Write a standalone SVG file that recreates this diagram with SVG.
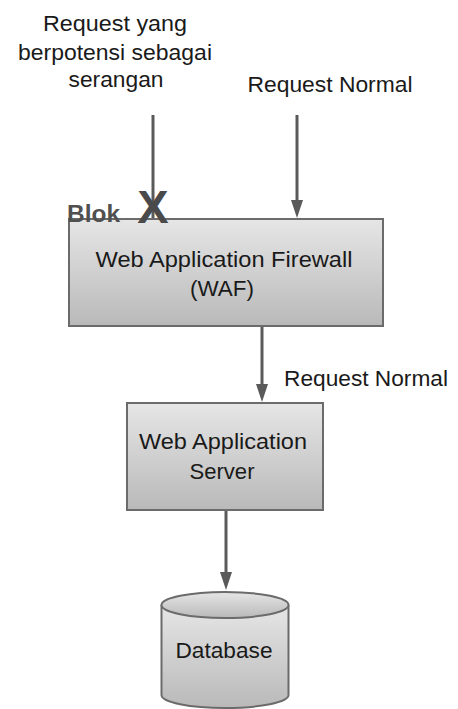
<svg xmlns="http://www.w3.org/2000/svg" width="458" height="709" viewBox="0 0 458 709">
<defs>
<linearGradient id="g" x1="0" y1="0" x2="0" y2="1">
<stop offset="0" stop-color="#e6e6e6"/>
<stop offset="1" stop-color="#b9b9b9"/>
</linearGradient>
<style>
.t{font-family:"Liberation Sans",Arial,sans-serif;font-size:21.5px;fill:#1a1a1a;text-anchor:middle}
.box{fill:url(#g);stroke:#6b6b6b;stroke-width:2}
.c{stroke:#5a5a5a;stroke-width:3;fill:none}
.h{fill:#5a5a5a}
</style>
</defs>
<g id="labels">
<text class="t" x="115" y="31" textLength="144" lengthAdjust="spacingAndGlyphs">Request yang</text>
<text class="t" x="115" y="60" textLength="194" lengthAdjust="spacingAndGlyphs">berpotensi sebagai</text>
<text class="t" x="116" y="87" textLength="95" lengthAdjust="spacingAndGlyphs">serangan</text>
<text class="t" x="330" y="92" textLength="165" lengthAdjust="spacingAndGlyphs">Request Normal</text>
<text class="t" x="366" y="386" textLength="164" lengthAdjust="spacingAndGlyphs">Request Normal</text>
</g>
<g id="connectors">
<line class="c" x1="153" y1="115" x2="153" y2="218"/>
<path d="M297,115 L297,200" class="c"/>
<path class="h" d="M291,200 L303,200 L297,218 Z"/>
<path d="M262,326 L262,384" class="c"/>
<path class="h" d="M256,384 L268,384 L262,402 Z"/>
<path d="M226,510 L226,572" class="c"/>
<path class="h" d="M220,572 L232,572 L226,590 Z"/>
</g>
<g id="waf">
<rect class="box" x="69" y="219" width="314" height="107"/>
<text class="t" x="224" y="267" textLength="257" lengthAdjust="spacingAndGlyphs">Web Application Firewall</text>
<text class="t" x="222" y="296" textLength="64" lengthAdjust="spacingAndGlyphs">(WAF)</text>
</g>
<g id="blok">
<text x="67" y="222" font-family="'Liberation Sans',Arial,sans-serif" font-weight="bold" font-size="24" fill="#505050" textLength="53" lengthAdjust="spacingAndGlyphs">Blok</text>
<text x="153" y="223" font-family="'Liberation Sans',Arial,sans-serif" font-weight="bold" font-size="47" fill="#4a4a4a" text-anchor="middle">X</text>
</g>
<g id="server">
<rect class="box" x="127" y="403" width="196" height="107"/>
<text class="t" x="223" y="449" textLength="168" lengthAdjust="spacingAndGlyphs">Web Application</text>
<text class="t" x="222" y="479" textLength="65" lengthAdjust="spacingAndGlyphs">Server</text>
</g>
<g id="database">
<path class="box" d="M161.5,605 L161.5,695 A63.5,13 0 0 0 288.5,695 L288.5,605"/>
<ellipse class="box" cx="225" cy="605" rx="63.5" ry="13"/>
<text class="t" x="224" y="658" textLength="97" lengthAdjust="spacingAndGlyphs">Database</text>
</g>
</svg>
